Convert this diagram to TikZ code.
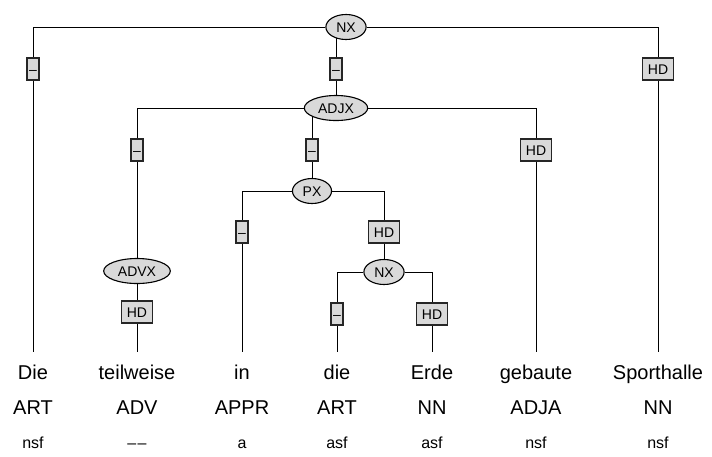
\documentclass[tikz,border=0pt]{standalone}
\usepackage{fontspec}
\setmainfont{Liberation Sans}
\usetikzlibrary{shapes.geometric,backgrounds}

\tikzset{
  cat/.style={ellipse, draw=black, line width=1.1pt, fill=gray!30,
    font=\fontsize{14}{16}\selectfont, inner xsep=4.5pt, inner ysep=2pt,
    minimum height=25pt, text height=10pt, text depth=0pt},
  fn/.style={rectangle, draw=black!85, line width=1.5pt, fill=gray!30,
    font=\fontsize{14}{16}\selectfont, inner sep=0pt, minimum height=22pt,
    text height=10pt, text depth=0pt},
  fnhd/.style={fn, minimum width=31pt},
  fndash/.style={fn, minimum width=12pt},
  word/.style={anchor=base, font=\fontsize{20}{23}\selectfont,
    text height=14.5pt, inner ysep=12.5pt, inner xsep=0pt},
  tag/.style={anchor=base, font=\fontsize{20}{23}\selectfont, inner sep=0pt},
  morph/.style={anchor=base, font=\fontsize{16}{19}\selectfont, inner sep=0pt}
}

\begin{document}
\begin{tikzpicture}[x=1pt, y=-1pt]
  \useasboundingbox (0,0) rectangle (712,456);

  % category nodes
  \node[cat] (nx1)  at (346,27)  {NX};
  \node[cat] (adjx) at (336,108) {ADJX};
  \node[cat] (px)   at (312,191) {PX};
  \node[cat] (nx2)  at (384,272) {NX};
  \node[cat] (advx) at (137,271) {ADVX};

  % function boxes
  \node[fndash] (f1) at (33,69)   {--};
  \node[fndash] (f2) at (336,69)  {--};
  \node[fnhd]   (f3) at (658,69)  {HD};
  \node[fndash] (f4) at (137,150) {--};
  \node[fndash] (f5) at (312,150) {--};
  \node[fnhd]   (f6) at (536,150) {HD};
  \node[fndash] (f7) at (242,232) {--};
  \node[fnhd]   (f8) at (384,232) {HD};
  \node[fnhd]   (f9) at (137,312) {HD};
  \node[fndash] (f10) at (337,314) {--};
  \node[fnhd]   (f11) at (432,314) {HD};

  % words, tags, morphology
  \foreach \x/\w/\t/\m [count=\i] in {33/Die/ART/nsf,
      137/teilweise/ADV/--\kern1.5pt--,
      242/in/APPR/a, 337/die/ART/asf, 432/Erde/NN/asf,
      536/gebaute/ADJA/nsf, 658/Sporthalle/NN/nsf} {
    \node[word]  (w\i) at (\x,379) {\w};
    \node[tag]   (t\i) at (\x,414) {\t};
    \node[morph] (m\i) at (\x,448) {\m};
  }

  % edges
  \begin{scope}[on background layer, line width=1.2pt]
    \draw (nx1) -| (f1) -- (w1.north);
    \draw (nx1) -| (f3) -- (w7.north);
    \draw (nx1 -| adjx) -- (f2) -- (adjx);
    \draw (adjx) -| (f4) -- (advx) -- (f9) -- (w2.north);
    \draw (adjx -| px) -- (f5) -- (px);
    \draw (adjx) -| (f6) -- (w6.north);
    \draw (px) -| (f7) -- (w3.north);
    \draw (px) -| (f8) -- (nx2);
    \draw (nx2) -| (f10) -- (w4.north);
    \draw (nx2) -| (f11) -- (w5.north);
  \end{scope}
\end{tikzpicture}
\end{document}
